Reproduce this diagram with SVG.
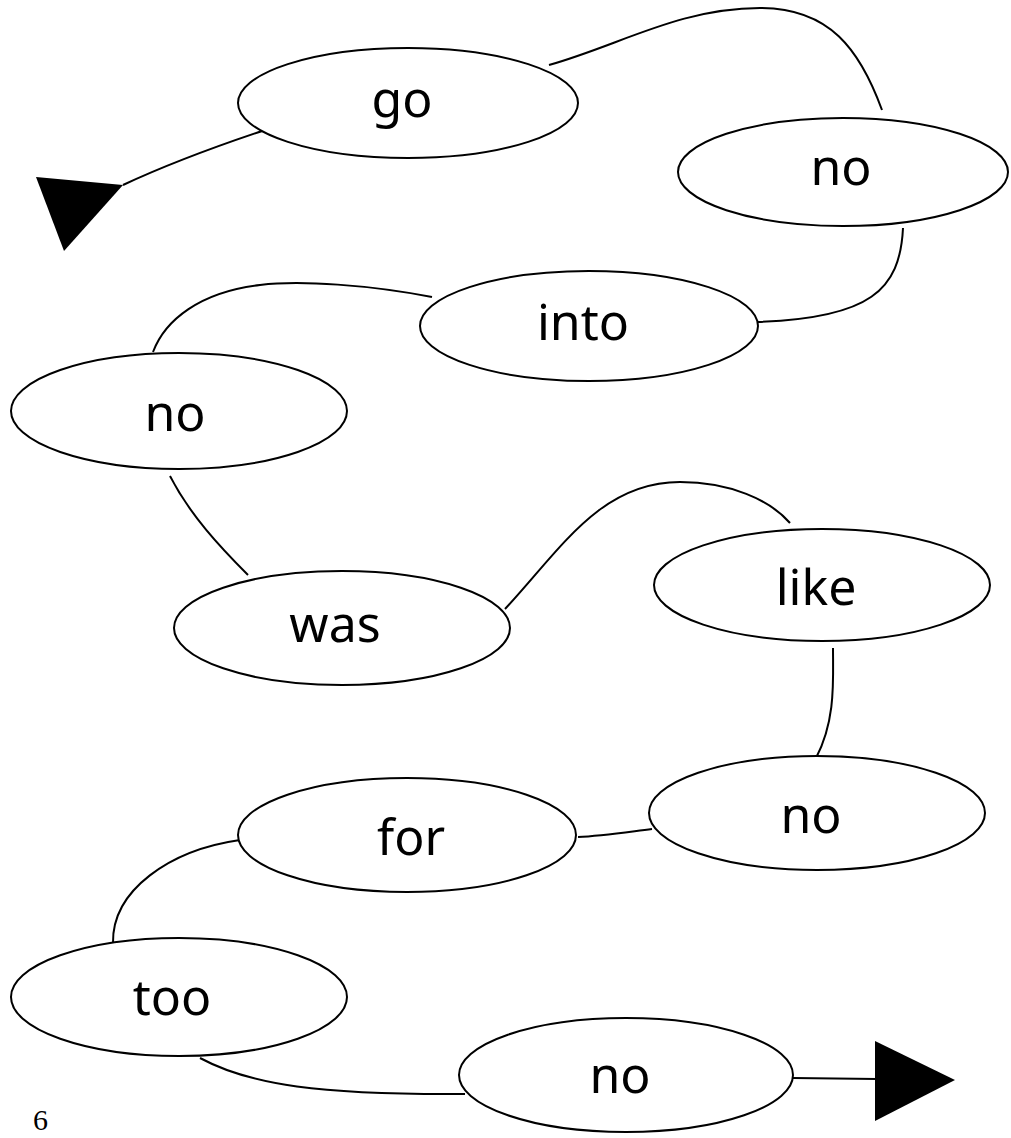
<svg xmlns="http://www.w3.org/2000/svg" width="1011" height="1138" viewBox="0 0 1011 1138">
<style>
.n ellipse{fill:#fff;stroke:#000;stroke-width:2}
.n text{font-family:"Noto Sans","Open Sans",sans-serif;font-size:50px;text-anchor:middle;fill:#000}
#edges path{fill:none;stroke:#000;stroke-width:2}
.head{fill:#000;stroke:none}
</style>
<rect width="1011" height="1138" fill="#fff"/>
<g id="edges">
<path d="M123,185 C170,163 220,145 265,130"/>
<path d="M549,65 C620,45 680,8 760,8 C830,8 860,50 882,110"/>
<path d="M903,228 C900,290 870,318 758,322"/>
<path d="M432,297 C370,285 300,280 260,285 C200,292 165,320 153,352"/>
<path d="M170,476 C190,515 220,547 248,575"/>
<path d="M505,609 C560,550 600,482 680,482 C730,482 770,500 790,523"/>
<path d="M833,648 C833,680 836,720 816,758"/>
<path d="M652,829 C620,833 600,836 578,837"/>
<path d="M240,840 C170,850 112,890 113,943"/>
<path d="M200,1058 C250,1085 320,1095 465,1094"/>
<path d="M793,1078 L877,1079"/>
<polygon class="head" points="36,177 123,185 64,251"/>
<polygon class="head" points="875,1041 955,1080 875,1121"/>
</g>
<g id="n-go" class="n"><ellipse cx="408" cy="103" rx="170" ry="55"/><text x="402" y="117">go</text></g>
<g id="n-no1" class="n"><ellipse cx="843" cy="172" rx="165" ry="54"/><text x="841" y="185">no</text></g>
<g id="n-into" class="n"><ellipse cx="589" cy="326" rx="169" ry="55"/><text x="583" y="340">into</text></g>
<g id="n-no2" class="n"><ellipse cx="179" cy="411" rx="168" ry="58"/><text x="175" y="431">no</text></g>
<g id="n-was" class="n"><ellipse cx="342" cy="628" rx="168" ry="57"/><text x="335" y="642">was</text></g>
<g id="n-like" class="n"><ellipse cx="822" cy="585" rx="168" ry="56"/><text x="816" y="605">like</text></g>
<g id="n-no3" class="n"><ellipse cx="817" cy="813" rx="168" ry="57"/><text x="811" y="833">no</text></g>
<g id="n-for" class="n"><ellipse cx="407" cy="835" rx="169" ry="57"/><text x="411" y="855">for</text></g>
<g id="n-too" class="n"><ellipse cx="179" cy="997" rx="168" ry="59"/><text x="172" y="1015">too</text></g>
<g id="n-no4" class="n"><ellipse cx="626" cy="1075" rx="167" ry="57"/><text x="620" y="1093">no</text></g>
<text x="33" y="1130" font-family="Liberation Serif,serif" font-size="30">6</text>
</svg>
